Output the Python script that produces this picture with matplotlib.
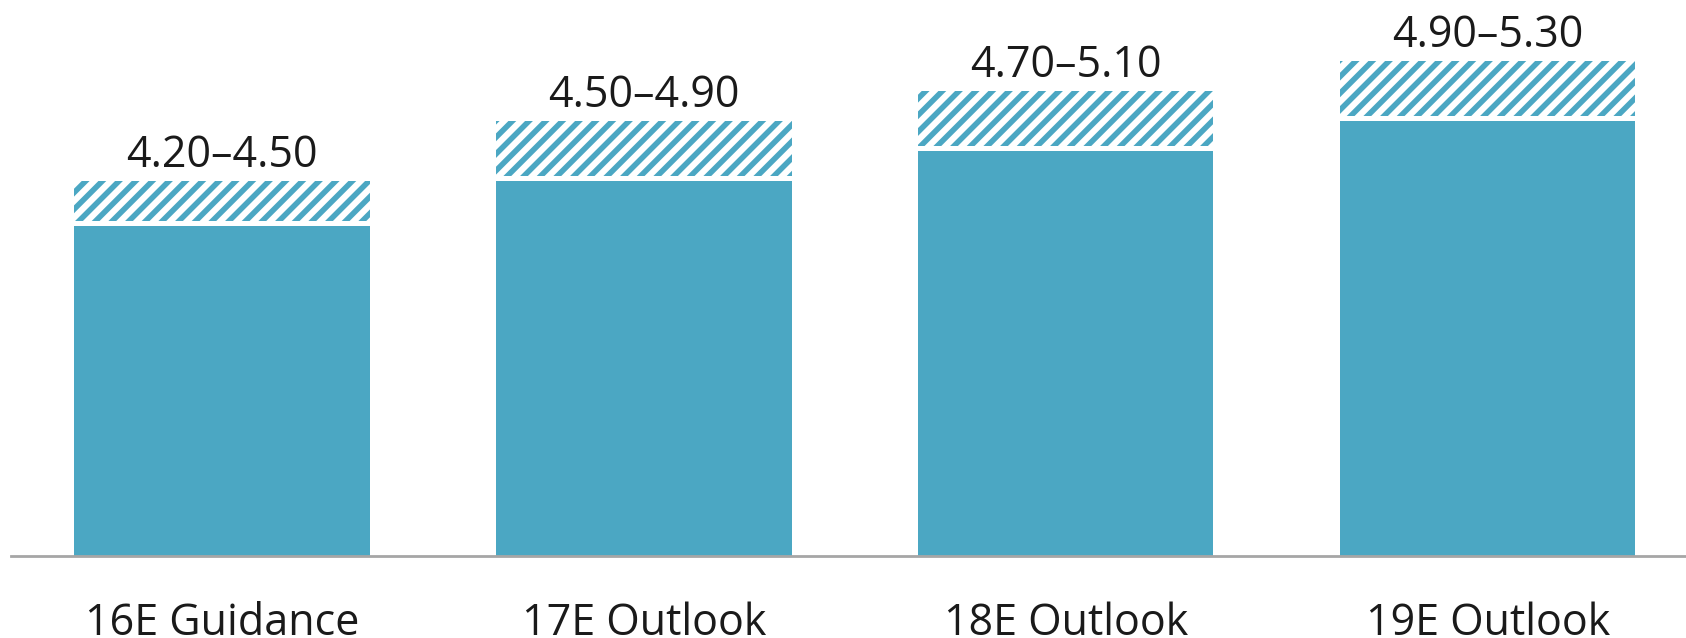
import matplotlib
matplotlib.use("Agg")
import matplotlib.pyplot as plt

categories = ["16E Guidance", "17E Outlook", "18E Outlook", "19E Outlook"]
low = [4.20, 4.50, 4.70, 4.90]
high = [4.50, 4.90, 5.10, 5.30]
labels = ["4.20\u20134.50", "4.50\u20134.90", "4.70\u20135.10", "4.90\u20135.30"]

blue = "#4BA7C3"
plt.rcParams["font.family"] = ["Open Sans", "DejaVu Sans"]
plt.rcParams["hatch.linewidth"] = 4.0

fig = plt.figure(figsize=(16.86, 6.38), dpi=100)
ax = fig.add_axes([11 / 1686, 82 / 638, 1675 / 1686, 556 / 638])

x = range(len(categories))
w = 0.70
gap = 0.035

# solid part = low end of the range, hatched part = the rest
ax.bar(x, [l - 2.0 for l in low], bottom=2.0, width=w, color=blue, linewidth=0)
ax.bar(x, [h - l - gap for l, h in zip(low, high)], bottom=[l + gap for l in low],
       width=w, facecolor="white", edgecolor=blue, hatch="//", linewidth=0)

for i, h in enumerate(high):
    ax.annotate(labels[i], (i, h), xytext=(0, 10), textcoords="offset points",
                ha="center", va="baseline", fontsize=31, color="#1a1a1a")

ax.set_xlim(-0.5, 3.47)
ax.set_ylim(2.0, 5.707)
ax.set_xticks(list(x))
ax.set_xticklabels(categories, fontsize=31, color="#1a1a1a")
ax.tick_params(axis="x", length=0, pad=33)
ax.set_yticks([])
for s in ["top", "right", "left"]:
    ax.spines[s].set_visible(False)
ax.spines["bottom"].set_color("#A6A6A6")
ax.spines["bottom"].set_linewidth(2)

fig.savefig("out.png", dpi=100)
